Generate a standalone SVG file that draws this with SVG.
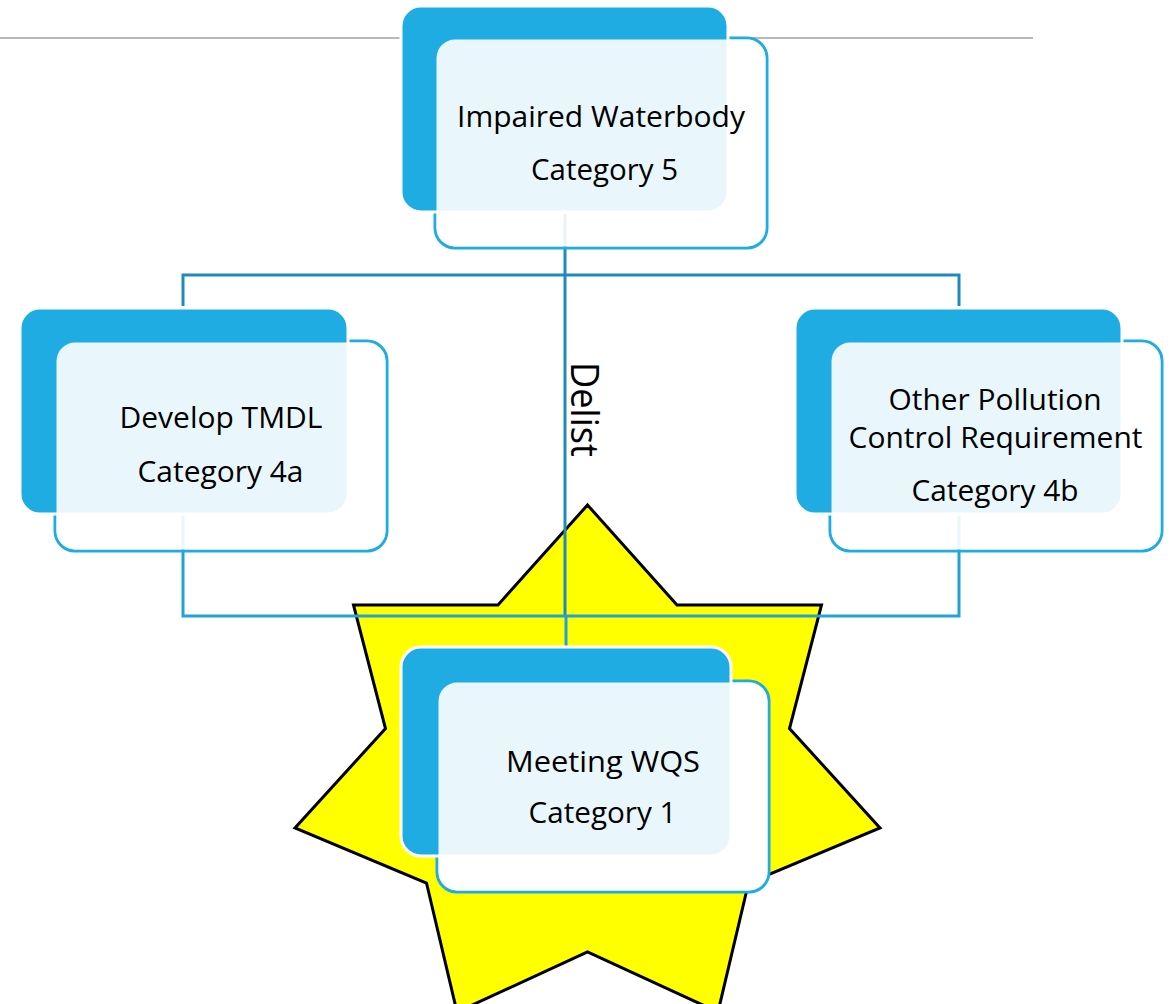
<svg xmlns="http://www.w3.org/2000/svg" width="1173" height="1004" viewBox="0 0 1173 1004">
<style>
.bg{fill:#ffffff}
.outline{fill:none;stroke:#1FACE2;stroke-width:3}
.under{fill:#ffffff}
.back{fill:#1FACE2;stroke:#ffffff;stroke-width:3}
.front{fill:#ffffff;fill-opacity:0.9}
.lbl{font-family:"Open Sans","Liberation Sans",sans-serif;font-size:30px;fill:#000000;text-anchor:middle}
.conTop{fill:none;stroke:#1F8BBB;stroke-width:3}
.conBot{fill:none;stroke:#22A2D6;stroke-width:3}
.star{fill:#FFFF00;stroke:#000000;stroke-width:3;stroke-linejoin:miter}
</style>
<rect class="bg" x="0" y="0" width="1173" height="1004"/>
<line x1="0" y1="38" x2="1033" y2="38" stroke="#A0A0A0" stroke-width="1.5"/>
<polygon class="star" points="587.5,505 677,605 821.5,605 789.5,728.5 880,828 748.5,883 718,1012 587.5,952 457,1012 426.5,883 295,828 385.5,728.5 353.5,605 498,605"/>
<g id="connectors">
  <path class="conTop" d="M183,306 V275 H959 V306"/>
  <path class="conTop" d="M565,214 V616"/>
  <path class="conBot" d="M183,516 V616 H959 V516"/>
  <path class="conBot" d="M566,616 V646"/>
  <text class="lbl" transform="translate(571,362) rotate(90)" x="0" y="0" style="font-size:39px;text-anchor:start" textLength="95" lengthAdjust="spacingAndGlyphs">Delist</text>
</g>
<g id="node-cat5">
  <rect class="outline" x="435" y="38" width="332" height="210" rx="20"/>
  <rect class="back" x="401" y="6" width="327" height="206" rx="20"/>
  <rect class="front" x="436.5" y="39.5" width="329" height="207" rx="18.5"/>
  <text class="lbl" x="601" y="127" textLength="288" lengthAdjust="spacingAndGlyphs">Impaired Waterbody</text>
  <text class="lbl" x="604.5" y="180" textLength="147" lengthAdjust="spacingAndGlyphs">Category 5</text>
</g>
<g id="node-cat4a">
  <rect class="outline" x="55" y="341" width="332" height="210" rx="20"/>
  <rect class="back" x="20" y="308" width="328" height="206" rx="20"/>
  <rect class="front" x="56.5" y="342.5" width="329" height="207" rx="18.5"/>
  <text class="lbl" x="221" y="428" textLength="203" lengthAdjust="spacingAndGlyphs">Develop TMDL</text>
  <text class="lbl" x="220.5" y="482" textLength="166" lengthAdjust="spacingAndGlyphs">Category 4a</text>
</g>
<g id="node-cat4b">
  <rect class="outline" x="830" y="341" width="332" height="210" rx="20"/>
  <rect class="back" x="795" y="308" width="327" height="206" rx="20"/>
  <rect class="front" x="831.5" y="342.5" width="329" height="207" rx="18.5"/>
  <text class="lbl" x="995" y="410" textLength="213" lengthAdjust="spacingAndGlyphs">Other Pollution</text>
  <text class="lbl" x="995.5" y="448" textLength="294" lengthAdjust="spacingAndGlyphs">Control Requirement</text>
  <text class="lbl" x="995" y="501" textLength="167" lengthAdjust="spacingAndGlyphs">Category 4b</text>
</g>
<g id="node-cat1">
  <rect class="under" x="437" y="681" width="332" height="211" rx="20"/>
  <rect class="outline" x="437" y="681" width="332" height="211" rx="20"/>
  <rect class="back" x="401" y="647" width="330" height="209" rx="20"/>
  <rect class="front" x="438.5" y="682.5" width="329" height="208" rx="18.5"/>
  <text class="lbl" x="603" y="772" textLength="194" lengthAdjust="spacingAndGlyphs">Meeting WQS</text>
  <text class="lbl" x="602.5" y="823" textLength="148" lengthAdjust="spacingAndGlyphs">Category 1</text>
</g>
</svg>
